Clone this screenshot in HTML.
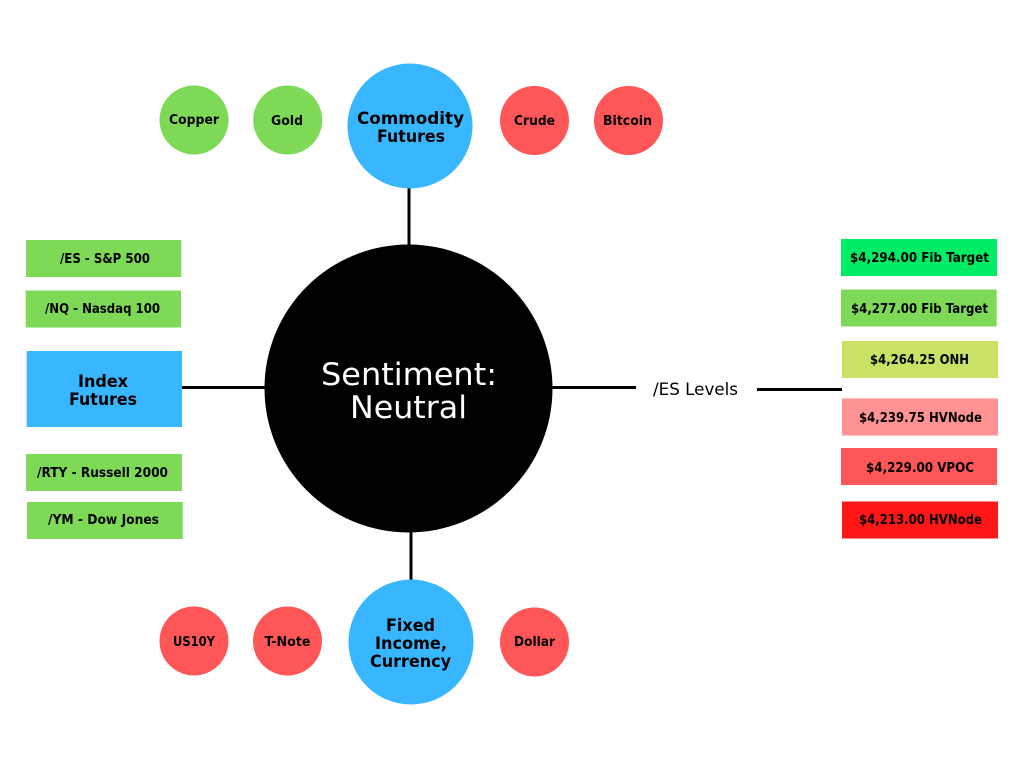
<!DOCTYPE html>
<html><head><meta charset="utf-8"><style>
html,body{margin:0;padding:0;background:#fff}
svg{display:block}
text{font-family:"DejaVu Sans","Liberation Sans",sans-serif;fill:#000;text-anchor:middle}
.s{font-size:13px;font-weight:700}
.t{font-size:17px;font-weight:700}
</style></head><body>
<svg width="1024" height="768" viewBox="0 0 1024 768" xmlns="http://www.w3.org/2000/svg">
<rect width="1024" height="768" fill="#fff"/>
<g stroke="#000" stroke-width="3" fill="none">
<path d="M409 188V246M411 531V581M182 387.5H266M551 387.5H636M757 389.5H842"/>
</g>
<circle cx="408.5" cy="388.5" r="144" fill="#000"/>
<g fill="#38b6ff">
<circle cx="410" cy="126" r="62.5"/>
<circle cx="411" cy="642" r="62.5"/>
<rect x="26.7" y="351" width="155.3" height="76"/>
</g>
<g fill="#7ed957">
<circle cx="194" cy="120" r="34.5"/>
<circle cx="287.7" cy="120" r="34.5"/>
<rect x="26" y="240" width="155.3" height="37"/>
<rect x="25.7" y="290.5" width="155.3" height="37"/>
<rect x="26" y="454" width="156" height="37"/>
<rect x="27" y="502" width="155.7" height="37"/>
<rect x="841" y="289.5" width="155.7" height="37"/>
</g>
<g fill="#ff5757">
<circle cx="534.5" cy="120.5" r="34.5"/>
<circle cx="628.5" cy="120.5" r="34.5"/>
<circle cx="194" cy="641" r="34.5"/>
<circle cx="287.5" cy="641" r="34.5"/>
<circle cx="534.5" cy="642" r="34.5"/>
<rect x="841" y="448" width="156" height="37"/>
</g>
<rect x="841" y="239" width="156" height="37" fill="#00ec64"/>
<rect x="842" y="341" width="156" height="37" fill="#c9e265"/>
<rect x="842" y="398.5" width="156" height="37" fill="#ff9292"/>
<rect x="842" y="501.5" width="156" height="37" fill="#ff1616"/>

<g class="s">
<text class="s" x="105" y="263" textLength="90" lengthAdjust="spacingAndGlyphs">/ES - S&amp;P 500</text>
<text class="s" x="102.5" y="313" textLength="115" lengthAdjust="spacingAndGlyphs">/NQ - Nasdaq 100</text>
<text class="s" x="102.5" y="477" textLength="131" lengthAdjust="spacingAndGlyphs">/RTY - Russell 2000</text>
<text class="s" x="103.5" y="524" textLength="111" lengthAdjust="spacingAndGlyphs">/YM - Dow Jones</text>
<text class="s" x="919.5" y="262" textLength="139" lengthAdjust="spacingAndGlyphs">$4,294.00 Fib Target</text>
<text class="s" x="919.5" y="313" textLength="137" lengthAdjust="spacingAndGlyphs">$4,277.00 Fib Target</text>
<text class="s" x="919.5" y="364" textLength="99" lengthAdjust="spacingAndGlyphs">$4,264.25 ONH</text>
<text class="s" x="920.5" y="422" textLength="123" lengthAdjust="spacingAndGlyphs">$4,239.75 HVNode</text>
<text class="s" x="920" y="472" textLength="108" lengthAdjust="spacingAndGlyphs">$4,229.00 VPOC</text>
<text class="s" x="920.5" y="524" textLength="123" lengthAdjust="spacingAndGlyphs">$4,213.00 HVNode</text>
<text class="s" x="194" y="124" textLength="50" lengthAdjust="spacingAndGlyphs">Copper</text>
<text class="s" x="287" y="125" textLength="32" lengthAdjust="spacingAndGlyphs">Gold</text>
<text class="s" x="534.5" y="125" textLength="41" lengthAdjust="spacingAndGlyphs">Crude</text>
<text class="s" x="627.5" y="125" textLength="49" lengthAdjust="spacingAndGlyphs">Bitcoin</text>
<text class="s" x="194" y="646" textLength="42" lengthAdjust="spacingAndGlyphs">US10Y</text>
<text class="s" x="287.5" y="646" textLength="46" lengthAdjust="spacingAndGlyphs">T-Note</text>
<text class="s" x="534.5" y="646" textLength="41" lengthAdjust="spacingAndGlyphs">Dollar</text>
</g>

<text class="t" x="103" y="387" textLength="50" lengthAdjust="spacingAndGlyphs">Index</text>
<text class="t" x="103" y="405" textLength="68" lengthAdjust="spacingAndGlyphs">Futures</text>
<text class="t" x="410.5" y="124" textLength="107" lengthAdjust="spacingAndGlyphs">Commodity</text>
<text class="t" x="411" y="142" textLength="68" lengthAdjust="spacingAndGlyphs">Futures</text>
<text class="t" x="410.5" y="631" textLength="49" lengthAdjust="spacingAndGlyphs">Fixed</text>
<text class="t" x="411" y="649" textLength="72" lengthAdjust="spacingAndGlyphs">Income,</text>
<text class="t" x="410.5" y="667" textLength="81" lengthAdjust="spacingAndGlyphs">Currency</text>

<text x="409" y="385" font-size="31" textLength="176" lengthAdjust="spacingAndGlyphs" style="fill:#fff">Sentiment:</text>
<text x="408.5" y="418" font-size="31" textLength="117" lengthAdjust="spacingAndGlyphs" style="fill:#fff">Neutral</text>
<text x="695.5" y="395" font-size="17" textLength="85" lengthAdjust="spacingAndGlyphs">/ES Levels</text>
</svg>
</body></html>
